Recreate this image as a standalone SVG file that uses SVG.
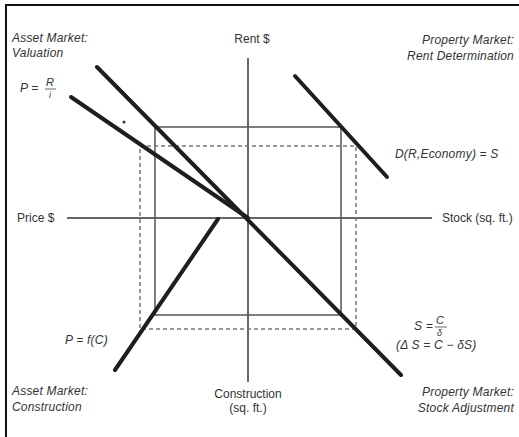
<svg xmlns="http://www.w3.org/2000/svg" width="519" height="437" viewBox="0 0 519 437">
<style>
.lbl{font-family:"Liberation Sans",Arial,sans-serif;font-size:12px;fill:#333;font-style:italic;letter-spacing:0.2px}
.ax{font-family:"Liberation Sans",Arial,sans-serif;font-size:12px;fill:#333}
.num{font-size:11px}
.den{font-size:9px}
.thick{stroke:#1e1e1e;stroke-width:4;stroke-linecap:round;fill:none}
.axis{stroke:#333;stroke-width:1.5;fill:none}
.rect{stroke:#555;stroke-width:1.5;fill:none}
.dash{stroke:#777;stroke-width:1.5;fill:none;stroke-dasharray:4 3}
</style>
<rect width="519" height="437" fill="#fff"/>
<g id="frame"><path d="M6 437V5H519" stroke="#111" stroke-width="2" fill="none"/></g>
<g id="axes">
<line class="axis" x1="248" y1="58" x2="248" y2="382"/>
<line class="axis" x1="67" y1="218" x2="432" y2="218"/>
<text class="ax" x="252" y="43" text-anchor="middle">Rent $</text>
<text class="ax" x="17" y="222">Price $</text>
<text class="ax" x="442" y="222">Stock (sq. ft.)</text>
<text class="ax" x="248" y="398" text-anchor="middle">Construction</text>
<text class="ax" x="248" y="412" text-anchor="middle">(sq. ft.)</text>
</g>
<g id="equilibrium">
<rect class="rect" x="155" y="127" width="186" height="188"/>
<rect class="dash" x="140" y="146" width="216" height="183"/>
</g>
<g id="connectors">
<line class="thick" x1="97" y1="67" x2="401" y2="375"/>
<line class="thick" x1="71" y1="97" x2="248" y2="218" stroke-width="3.5"/>
<line class="thick" x1="295" y1="76" x2="387" y2="177"/>
<line class="thick" x1="115" y1="370" x2="218" y2="219"/>
<circle cx="124" cy="122" r="1.5" fill="#333"/>
</g>
<g id="valuation">
<text class="lbl" x="12" y="42">Asset Market:</text>
<text class="lbl" x="12" y="57">Valuation</text>
<text class="lbl" x="20" y="92">P =</text>
<text class="lbl"><tspan class="num" x="46" y="86">R</tspan><tspan class="den" x="49" y="98">i</tspan></text>
<line x1="45" y1="89" x2="56" y2="89" stroke="#444" stroke-width="0.8"/>
</g>
<g id="rent">
<text class="lbl" x="514" y="44" text-anchor="end">Property Market:</text>
<text class="lbl" x="514" y="60" text-anchor="end">Rent Determination</text>
<text class="lbl" x="395" y="158">D(R,Economy) = S</text>
</g>
<g id="construction">
<text class="lbl" x="12" y="395">Asset Market:</text>
<text class="lbl" x="12" y="411">Construction</text>
<text class="lbl" x="65" y="344">P = f(C)</text>
</g>
<g id="stock">
<text class="lbl" x="414" y="330">S =</text>
<text class="lbl"><tspan class="num" x="436" y="324">C</tspan><tspan class="den" x="437" y="336">δ</tspan></text>
<line x1="435" y1="327" x2="447" y2="327" stroke="#444" stroke-width="0.8"/>
<text class="lbl" x="396" y="349">(Δ S = C − δS)</text>
<text class="lbl" x="514" y="396" text-anchor="end">Property Market:</text>
<text class="lbl" x="514" y="412" text-anchor="end">Stock Adjustment</text>
</g>
</svg>
